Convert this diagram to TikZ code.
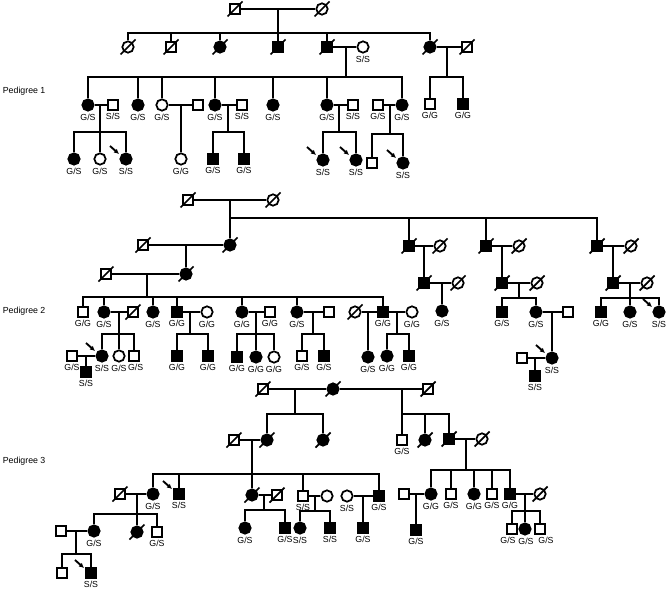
\documentclass[tikz,border=0pt]{standalone}
\usepackage{fontspec}
\setmainfont{Liberation Sans}
\usetikzlibrary{arrows.meta,calc}
\newcommand{\labfont}{\fontsize{7.5}{8.5}\selectfont}
\newcommand{\pedfont}{\fontsize{7.5}{9}\selectfont}
\tikzset{
  ma/.style={rectangle, draw, fill=white, minimum size=0.28cm, inner sep=0pt},
  fe/.style={circle, draw, fill=white, minimum size=0.34cm, inner sep=0pt},
  af/.style={fill=black},
  parr/.style={-{Latex[length=1.5mm,width=1.5mm]}, line width=1.6pt},
  ped/.style={font=\pedfont, anchor=west, inner sep=0pt},
  every label/.style={font=\labfont, inner sep=0.5pt}
}
\begin{document}
\begin{tikzpicture}[x=0.03cm, y=-0.03cm, line width=1.5pt, label distance=0.8pt]
  \useasboundingbox (0,0) rectangle (669,590);

  \node[ped] (pd1) at (2,91) {Pedigree 1};
  \node[ped] (pd2) at (2,311) {Pedigree 2};
  \node[ped] (pd3) at (2,461) {Pedigree 3};

  % Pedigree 1
  \node[ma] (q1m) at (235,9) {};
  \node[fe] (q1f) at (322,9) {};
  \node[fe] (g2a) at (128,47) {};
  \node[ma] (g2b) at (171,47) {};
  \node[fe,af] (g2c) at (220,47) {};
  \node[ma,af] (g2d) at (278,47) {};
  \node[ma,af] (g2e) at (327,47) {};
  \node[fe,label=below:S/S] (g2es) at (363,47) {};
  \node[fe,af] (g2f) at (430,47) {};
  \node[ma] (g2fs) at (467,47) {};
  \node[fe,af,label=below:G/S] (h1) at (88,105) {};
  \node[ma,label=below:S/S] (h1s) at (113,105) {};
  \node[fe,af,label=below:G/S] (h2) at (138,105) {};
  \node[fe,label=below:G/S] (h3) at (162,105) {};
  \node[ma] (h3s) at (198,105) {};
  \node[fe,af,label=below:G/S] (h4) at (215,105) {};
  \node[ma,label=below:S/S] (h4s) at (242,105) {};
  \node[fe,af,label=below:G/S] (h5) at (273,105) {};
  \node[fe,af,label=below:G/S] (h6) at (327,105) {};
  \node[ma,label=below:S/S] (h6s) at (353,105) {};
  \node[ma,label=below:G/S] (h7s) at (378,105) {};
  \node[fe,af,label=below:G/S] (h7) at (402,105) {};
  \node[ma,label=below:G/G] (i1) at (430,104) {};
  \node[ma,af,label=below:G/G] (i2) at (463,104) {};
  \node[fe,af,label=below:G/S] (j1) at (74,159) {};
  \node[fe,label=below:G/S] (j2) at (100,159) {};
  \node[fe,af,label=below:S/S] (j3) at (126,159) {};
  \node[fe,label=below:G/G] (j4) at (181,159) {};
  \node[ma,af,label=below:G/S] (j5) at (213,159) {};
  \node[ma,af,label=below:G/S] (j6) at (244,159) {};
  \node[fe,af,label=below:S/S] (j7) at (323,160) {};
  \node[fe,af,label=below:S/S] (j8) at (356,160) {};
  \node[ma] (j9) at (372,163) {};
  \node[fe,af,label=below:S/S] (j10) at (403,163) {};

  \draw (q1m) -- (q1f);
  \coordinate (q1d) at (278,9);
  \coordinate (q1j) at (278,33);
  \draw (q1d) -- (q1j);
  \draw (g2a) -- (g2a |- q1j) -- (g2f |- q1j) -- (g2f);
  \foreach \n in {g2b,g2c,g2d,g2e} \draw (\n) -- (\n |- q1j);
  \draw (g2e) -- (g2es);
  \coordinate (g2ed) at (346,47);
  \coordinate (g2ej) at (346,77);
  \draw (g2ed) -- (g2ej);
  \draw (h1) -- (h1 |- g2ej) -- (h7 |- g2ej) -- (h7);
  \foreach \n in {h2,h3,h4,h5,h6} \draw (\n) -- (\n |- g2ej);
  \draw (g2f) -- (g2fs);
  \coordinate (g2fd) at (447,47);
  \coordinate (g2fj) at (447,77);
  \draw (g2fd) -- (g2fj);
  \draw (i1) -- (i1 |- g2fj) -- (i2 |- g2fj) -- (i2);
  \draw (h1) -- (h1s);
  \coordinate (h1d) at (100,105);
  \coordinate (h1j) at (100,132);
  \draw (h1d) -- (j2);
  \draw (j1) -- (j1 |- h1j) -- (j3 |- h1j) -- (j3);
  \draw (h3) -- (h3s);
  \coordinate (h3d) at (181,105);
  \draw (h3d) -- (j4);
  \draw (h4) -- (h4s);
  \coordinate (h4d) at (228,105);
  \coordinate (h4j) at (228,132);
  \draw (h4d) -- (h4j);
  \draw (j5) -- (j5 |- h4j) -- (j6 |- h4j) -- (j6);
  \draw (h6) -- (h6s);
  \coordinate (h6d) at (339,105);
  \coordinate (h6j) at (339,132);
  \draw (h6d) -- (h6j);
  \draw (j7) -- (j7 |- h6j) -- (j8 |- h6j) -- (j8);
  \draw (h7s) -- (h7);
  \coordinate (h7d) at (390,105);
  \coordinate (h7j) at (390,134);
  \draw (h7d) -- (h7j);
  \draw (j9) -- (j9 |- h7j) -- (j10 |- h7j) -- (j10);

  % Pedigree 2
  \node[ma] (r1m) at (188,200) {};
  \node[fe] (r1f) at (273,200) {};
  \node[fe,af] (k1) at (230,245) {};
  \node[ma] (k1s) at (143,245) {};
  \node[fe,af] (k2) at (186,274) {};
  \node[ma] (k2s) at (106,274) {};
  \node[ma,af] (k3) at (409,246) {};
  \node[fe] (k3s) at (440,246) {};
  \node[ma,af] (k4) at (424,283) {};
  \node[fe] (k4s) at (458,283) {};
  \node[fe,af,label=below:G/S] (k4c) at (442,311) {};
  \node[ma,af] (k5) at (486,246) {};
  \node[fe] (k5s) at (519,246) {};
  \node[ma,af] (k6) at (502,283) {};
  \node[fe] (k6s) at (537,283) {};
  \node[ma,af,label=below:G/S] (k6a) at (502,312) {};
  \node[fe,af,label=below:G/S] (k6b) at (536,312) {};
  \node[ma] (k6bs) at (568,312) {};
  \node[fe,af,label=below:S/S] (k6c) at (552,358) {};
  \node[ma] (k6cs) at (522,358) {};
  \node[ma,af,label=below:S/S] (k6e) at (535,376) {};
  \node[ma,af] (k7) at (597,246) {};
  \node[fe] (k7s) at (631,246) {};
  \node[ma,af] (k8) at (613,283) {};
  \node[fe] (k8s) at (647,283) {};
  \node[ma,af,label=below:G/G] (k8a) at (601,312) {};
  \node[fe,af,label=below:G/S] (k8b) at (630,312) {};
  \node[fe,af,label=below:S/S] (k8c) at (659,312) {};
  \node[ma,label=below:G/G] (m1) at (83,312) {};
  \node[fe,af,label=below:G/S] (m2) at (104,312) {};
  \node[ma] (m2s) at (133,312) {};
  \node[fe,af,label=below:G/S] (m3) at (153,312) {};
  \node[ma,af,label=below:G/G] (m4) at (177,312) {};
  \node[fe,label=below:G/G] (m4s) at (207,312) {};
  \node[fe,af,label=below:G/G] (m5) at (242,312) {};
  \node[ma,label=below:G/G] (m5s) at (270,312) {};
  \node[fe,af,label=below:G/S] (m6) at (297,312) {};
  \node[ma] (m6s) at (329,312) {};
  \node[fe] (m7a) at (355,312) {};
  \node[ma,af,label=below:G/G] (m7) at (383,312) {};
  \node[fe,label=below:G/G] (m7b) at (412,312) {};
  \node[fe,af,label=below:S/S] (n1) at (102,356) {};
  \node[fe,label=below:G/S] (n2) at (119,356) {};
  \node[ma,label={[xshift=0.05cm]below:G/S}] (n3) at (134,356) {};
  \node[ma,label=below:G/S] (n1s) at (72,356) {};
  \node[ma,af,label=below:S/S] (n1c) at (86,372) {};
  \node[ma,af,label=below:G/G] (n4) at (177,356) {};
  \node[ma,af,label=below:G/G] (n5) at (208,356) {};
  \node[ma,af,label=below:G/G] (n6) at (237,357) {};
  \node[fe,af,label=below:G/G] (n7) at (256,357) {};
  \node[fe,label=below:G/G] (n8) at (274,357) {};
  \node[ma,label=below:G/S] (n9) at (302,356) {};
  \node[ma,af,label=below:G/S] (n10) at (324,356) {};
  \node[fe,af,label=below:G/S] (n11) at (368,357) {};
  \node[fe,af,label=below:G/G] (n12) at (387,356) {};
  \node[ma,af,label=below:G/G] (n13) at (409,356) {};

  \draw (r1m) -- (r1f);
  \coordinate (r1d) at (230,200);
  \coordinate (r1j) at (230,218);
  \draw (r1d) -- (k1);
  \draw (r1j) -- (k7 |- r1j) -- (k7);
  \foreach \n in {k3,k5} \draw (\n) -- (\n |- r1j);
  \draw (k1s) -- (k1);
  \coordinate (k1d) at (186,245);
  \draw (k1d) -- (k2);
  \draw (k2s) -- (k2);
  \coordinate (k2d) at (147,274);
  \coordinate (k2j) at (147,297);
  \draw (k2d) -- (k2j);
  \draw (m1) -- (m1 |- k2j) -- (m7 |- k2j) -- (m7);
  \foreach \n in {m2,m3,m4,m5,m6} \draw (\n) -- (\n |- k2j);
  \draw (m2) -- (m2s);
  \coordinate (m2d) at (119,312);
  \coordinate (m2j) at (119,334);
  \draw (m2d) -- (n2);
  \draw (n1) -- (n1 |- m2j) -- (n3 |- m2j) -- (n3);
  \draw (n1s) -- (n1);
  \coordinate (n1d) at (86,356);
  \draw (n1d) -- (n1c);
  \draw (m4) -- (m4s);
  \coordinate (m4d) at (190,312);
  \coordinate (m4j) at (190,334);
  \draw (m4d) -- (m4j);
  \draw (n4) -- (n4 |- m4j) -- (n5 |- m4j) -- (n5);
  \draw (m5) -- (m5s);
  \coordinate (m5d) at (256,312);
  \coordinate (m5j) at (256,334);
  \draw (m5d) -- (n7);
  \draw (n6) -- (n6 |- m5j) -- (n8 |- m5j) -- (n8);
  \draw (m6) -- (m6s);
  \coordinate (m6d) at (313,312);
  \coordinate (m6j) at (313,334);
  \draw (m6d) -- (m6j);
  \draw (n9) -- (n9 |- m6j) -- (n10 |- m6j) -- (n10);
  \draw (m7a) -- (m7);
  \draw (m7) -- (m7b);
  \coordinate (m7ad) at (368,312);
  \draw (m7ad) -- (n11);
  \coordinate (m7bd) at (397,312);
  \coordinate (m7bj) at (397,334);
  \draw (m7bd) -- (m7bj);
  \draw (n12) -- (n12 |- m7bj) -- (n13 |- m7bj) -- (n13);
  \draw (k3) -- (k3s);
  \coordinate (k3d) at (424,246);
  \draw (k3d) -- (k4);
  \draw (k4) -- (k4s);
  \coordinate (k4d) at (442,283);
  \draw (k4d) -- (k4c);
  \draw (k5) -- (k5s);
  \coordinate (k5d) at (502,246);
  \draw (k5d) -- (k6);
  \draw (k6) -- (k6s);
  \coordinate (k6d) at (519,283);
  \coordinate (k6j) at (519,298);
  \draw (k6d) -- (k6j);
  \draw (k6a) -- (k6a |- k6j) -- (k6b |- k6j) -- (k6b);
  \draw (k6b) -- (k6bs);
  \coordinate (k6bd) at (552,312);
  \draw (k6bd) -- (k6c);
  \draw (k6cs) -- (k6c);
  \coordinate (k6cd) at (535,358);
  \draw (k6cd) -- (k6e);
  \draw (k7) -- (k7s);
  \coordinate (k7d) at (613,246);
  \draw (k7d) -- (k8);
  \draw (k8) -- (k8s);
  \coordinate (k8d) at (630,283);
  \coordinate (k8j) at (630,298);
  \draw (k8d) -- (k8b);
  \draw (k8a) -- (k8a |- k8j) -- (k8c |- k8j) -- (k8c);

  % Pedigree 3
  \node[ma] (t1) at (263,389) {};
  \node[fe,af] (t2) at (333,389) {};
  \node[ma] (t3) at (428,389) {};
  \node[fe,af] (u1) at (267,440) {};
  \node[ma] (u1s) at (234,440) {};
  \node[fe,af] (u2) at (323,440) {};
  \node[ma,label=below:G/S] (u3) at (402,440) {};
  \node[fe,af] (u4) at (425,440) {};
  \node[ma,af] (u5) at (449,439) {};
  \node[fe] (u5s) at (482,439) {};
  \node[ma] (v1s) at (120,494) {};
  \node[fe,af,label=below:G/S] (v1) at (153,494) {};
  \node[ma,af,label=below:S/S] (v2) at (179,494) {};
  \node[fe,af] (v3) at (252,495) {};
  \node[ma] (v3s) at (277,495) {};
  \node[ma,label=below:S/S] (v4) at (303,496) {};
  \node[fe] (v4s) at (327,496) {};
  \node[fe,label=below:S/S] (v5s) at (347,496) {};
  \node[ma,af,label=below:G/S] (v5) at (379,496) {};
  \node[ma] (w1s) at (61,531) {};
  \node[fe,af,label=below:G/S] (w1) at (94,531) {};
  \node[fe,af] (w2) at (137,532) {};
  \node[ma,label=below:G/S] (w3) at (157,532) {};
  \node[fe,af,label=below:G/S] (w4) at (245,528) {};
  \node[ma,af,label=below:G/S] (w5) at (285,528) {};
  \node[fe,af,label=below:S/S] (w6) at (300,528) {};
  \node[ma,af,label=below:S/S] (w7) at (330,528) {};
  \node[ma,af,label=below:G/S] (w8) at (363,528) {};
  \node[ma] (x1) at (62,573) {};
  \node[ma,af,label=below:S/S] (x2) at (91,573) {};
  \node[ma] (y1s) at (404,494) {};
  \node[fe,af,label=below:G/G] (y1) at (431,494) {};
  \node[ma,af,label=below:G/S] (y1c) at (416,530) {};
  \node[ma,label=below:G/S] (y2) at (451,494) {};
  \node[fe,af,label=below:G/G] (y3) at (474,494) {};
  \node[ma,label=below:G/S] (y4) at (492,494) {};
  \node[ma,af,label=below:G/G] (y5) at (510,494) {};
  \node[fe] (y5s) at (540,494) {};
  \node[ma,label={[xshift=-0.12cm]below:G/S}] (z1) at (512,529) {};
  \node[fe,af,label={[xshift=0.03cm]below:G/S}] (z2) at (525,529) {};
  \node[ma,label={[xshift=0.18cm]below:G/S}] (z3) at (540,529) {};

  \draw (t1) -- (t2);
  \draw (t2) -- (t3);
  \coordinate (t1d) at (295,389);
  \coordinate (t1j) at (295,414);
  \draw (t1d) -- (t1j);
  \draw (u1) -- (u1 |- t1j) -- (u2 |- t1j) -- (u2);
  \coordinate (t2d) at (402,389);
  \coordinate (t2j) at (402,414);
  \draw (t2d) -- (u3);
  \draw (t2j) -- (u5 |- t2j) -- (u5);
  \draw (u4) -- (u4 |- t2j);
  \draw (u1s) -- (u1);
  \coordinate (u1d) at (252,440);
  \coordinate (u1j) at (252,474);
  \draw (u1d) -- (v3);
  \draw (v1) -- (v1 |- u1j) -- (v5 |- u1j) -- (v5);
  \foreach \n in {v2,v4} \draw (\n) -- (\n |- u1j);
  \draw (v1s) -- (v1);
  \coordinate (v1d) at (137,494);
  \coordinate (v1j) at (137,514);
  \draw (v1d) -- (w2);
  \draw (w1) -- (w1 |- v1j) -- (w3 |- v1j) -- (w3);
  \draw (w1s) -- (w1);
  \coordinate (w1d) at (76,531);
  \coordinate (w1j) at (76,554);
  \draw (w1d) -- (w1j);
  \draw (x1) -- (x1 |- w1j) -- (x2 |- w1j) -- (x2);
  \draw (v3) -- (v3s);
  \coordinate (v3d) at (264,495);
  \coordinate (v3j) at (264,510);
  \draw (v3d) -- (v3j);
  \draw (w4) -- (w4 |- v3j) -- (w5 |- v3j) -- (w5);
  \draw (v4) -- (v4s);
  \coordinate (v4d) at (315,496);
  \coordinate (v4j) at (315,511);
  \draw (v4d) -- (v4j);
  \draw (w6) -- (w6 |- v4j) -- (w7 |- v4j) -- (w7);
  \draw (v5s) -- (v5);
  \coordinate (v5d) at (363,496);
  \draw (v5d) -- (w8);
  \draw (u5) -- (u5s);
  \coordinate (u5d) at (466,439);
  \coordinate (u5j) at (466,470);
  \draw (u5d) -- (u5j);
  \draw (y1) -- (y1 |- u5j) -- (y5 |- u5j) -- (y5);
  \foreach \n in {y2,y3,y4} \draw (\n) -- (\n |- u5j);
  \draw (y1s) -- (y1);
  \coordinate (y1d) at (416,494);
  \draw (y1d) -- (y1c);
  \draw (y5) -- (y5s);
  \coordinate (y5d) at (525,494);
  \coordinate (y5j) at (525,511);
  \draw (y5d) -- (z2);
  \draw (z1) -- (z1 |- y5j) -- (z3 |- y5j) -- (z3);

  \foreach \n in {q1m,q1f,g2a,g2b,g2c,g2d,g2e,g2f,g2fs,
                  r1m,r1f,k1,k1s,k2,k2s,k3,k3s,k4,k4s,k5,k5s,k6,k6s,k7,k7s,k8,k8s,m2s,m7a,
                  t1,t2,t3,u1,u1s,u2,u4,u5,u5s,v1s,v3,v3s,w2,y5s}
    \draw ($(\n)+(-7.5,7.5)$) -- ($(\n)+(7.5,-7.5)$);
  \foreach \n in {j3,j7,j8,j10,n1,k6c,k8c,v2,x2}
    \draw[parr] ($(\n)+(-16,-13)$) -- ($(\n)+(-7,-5)$);
\end{tikzpicture}
\end{document}
